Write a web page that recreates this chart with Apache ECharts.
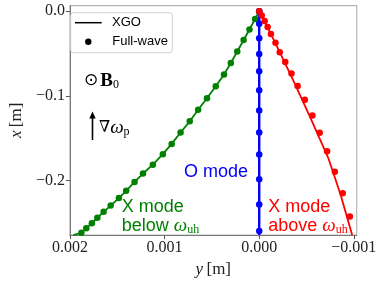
<!DOCTYPE html>
<html><head><meta charset="utf-8">
<script src="https://cdn.jsdelivr.net/npm/echarts@6/dist/echarts.min.js"></script>
<style>html,body{margin:0;padding:0;background:#fff}#c{width:382px;height:283px}</style>
</head><body><div id="c"></div>
<script>
// horizontal axis: y [m], vertical axis: x [m]
var xTicks = [0.002, 0.001, 0, -0.001];
var yTicks = [0, -0.1, -0.2];

// X mode below w_uh (green)
var greenFwY = [0, 0.0000434, 0.000103, 0.000165, 0.000232, 0.000300, 0.000372, 0.000459, 0.000552, 0.000645, 0.000734, 0.000831, 0.000925, 0.001018, 0.001124, 0.001228, 0.001317, 0.001406, 0.001483, 0.001569, 0.001644, 0.001710, 0.001768, 0.001827, 0.001879];
var greenFwX = [0, -0.0091, -0.0216, -0.0341, -0.0477, -0.0612, -0.0748, -0.0887, -0.1029, -0.1166, -0.1302, -0.1434, -0.1569, -0.1690, -0.1814, -0.1919, -0.2019, -0.2123, -0.2209, -0.2298, -0.2372, -0.2442, -0.2507, -0.2565, -0.2620];
var greenXgoY = [0, 0.0000434, 0.000103, 0.000165, 0.000232, 0.000300, 0.000372, 0.000459, 0.000552, 0.000645, 0.000734, 0.000831, 0.000925, 0.001018, 0.001124, 0.001228, 0.001317, 0.001406, 0.001483, 0.001569, 0.001644, 0.001710, 0.001768, 0.001827, 0.001879, 0.001965];
var greenXgoX = [0, -0.0091, -0.0216, -0.0341, -0.0477, -0.0612, -0.0748, -0.0887, -0.1029, -0.1166, -0.1302, -0.1434, -0.1569, -0.1690, -0.1814, -0.1919, -0.2019, -0.2123, -0.2209, -0.2298, -0.2372, -0.2442, -0.2507, -0.2565, -0.2620, -0.2647];

// O mode (blue)
var blueFwY = [0, 0, 0, 0, 0, 0, 0, 0, 0, 0, 0, 0];
var blueFwX = [0, -0.0147, -0.0321, -0.0507, -0.0709, -0.0934, -0.1174, -0.1434, -0.1695, -0.1988, -0.2286, -0.2600];
var blueXgoY = [0, 0];
var blueXgoX = [0, -0.2647];

// X mode above w_uh (red)
var redFwY = [0, -0.0000269, -0.0000579, -0.0000889, -0.000124, -0.000172, -0.000217, -0.000275, -0.000341, -0.000406, -0.000482, -0.000562, -0.000639, -0.000717, -0.000799, -0.000882, -0.000958];
var redFwX = [0, -0.0050, -0.0116, -0.0186, -0.0271, -0.0372, -0.0484, -0.0600, -0.0736, -0.0884, -0.1048, -0.1233, -0.1436, -0.1655, -0.1899, -0.2151, -0.2426];
var redXgoY = [0, -0.000155, -0.000355, -0.000545, -0.000730, -0.000860, -0.000982];
var redXgoX = [0, -0.0341, -0.0806, -0.1270, -0.1736, -0.2170, -0.2647];

function zip(a, b) { return a.map(function (v, i) { return [v, b[i]]; }); }
function fmt(v, d) {
  if (Math.abs(v) < 1e-12) return (0).toFixed(d);
  return (v < 0 ? '\u2212' : '') + Math.abs(v).toFixed(d);
}

var GREEN = '#008000', BLUE = '#0000ff', RED = '#ff0000';
var SERIF = '"Liberation Serif", "DejaVu Serif", serif';
var SANS = '"Liberation Sans", Arial, sans-serif';

var chart = echarts.init(document.getElementById('c'), null, {renderer: 'canvas'});

function lineS(name, data, color, w, z) {
  return {type: 'line', name: name, data: data, showSymbol: false, symbol: 'none',
    lineStyle: {color: color, width: w}, itemStyle: {color: color}, z: z, animation: false, silent: true, clip: true};
}
function dotS(name, data, color, z) {
  return {type: 'scatter', name: name, data: data, symbol: 'circle', symbolSize: 6.5,
    itemStyle: {color: color, opacity: 1}, z: z, animation: false, silent: true};
}

var subRich = function (color) {
  return {
    t: {fontFamily: SANS, fontSize: 18, fill: color, lineHeight: 20},
    w: {fontFamily: SERIF, fontStyle: 'italic', fontSize: 19, fill: color, lineHeight: 20},
    s: {fontFamily: SERIF, fontSize: 12, fill: color, lineHeight: 20, verticalAlign: 'bottom'}
  };
};

chart.setOption({
  animation: false,
  grid: {left: 63.3, right: 25.3, top: 5.7, bottom: 44.7, show: true, borderColor: '#b5b5b5', borderWidth: 1.2, backgroundColor: '#fff'},
  xAxis: {
    type: 'value', inverse: true, min: -0.00103, max: 0.002,
    splitLine: {show: false},
    axisLine: {show: true, onZero: false, lineStyle: {color: '#7a7a7a', width: 1}},
    axisTick: {show: true, length: 4, customValues: xTicks, lineStyle: {color: '#555'}},
    axisLabel: {customValues: xTicks, margin: 5, fontFamily: SERIF, fontSize: 16, color: '#222', formatter: function (v) { return fmt(v, 3); }},
    name: '{i|y} {r|[m]}', nameLocation: 'middle', nameGap: 24,
    nameTextStyle: {rich: {i: {fontFamily: SERIF, fontStyle: 'italic', fontSize: 17, color: '#222'}, r: {fontFamily: SERIF, fontSize: 17, color: '#222'}}}
  },
  yAxis: {
    type: 'value', min: -0.2647, max: 0.0065,
    splitLine: {show: false},
    axisLine: {show: true, onZero: false, lineStyle: {color: '#7a7a7a', width: 1}},
    axisTick: {show: true, length: 4, customValues: yTicks, lineStyle: {color: '#555'}},
    axisLabel: {customValues: yTicks, margin: 5, fontFamily: SERIF, fontSize: 16, color: '#222', formatter: function (v) { return fmt(v, 1); }},
    name: '{i|x} {r|[m]}', nameLocation: 'middle', nameGap: 42,
    nameTextStyle: {rich: {i: {fontFamily: SERIF, fontStyle: 'italic', fontSize: 17, color: '#222'}, r: {fontFamily: SERIF, fontSize: 17, color: '#222'}}}
  },
  series: [
    lineS('XGO', zip(greenXgoY, greenXgoX), GREEN, 1.8, 2),
    dotS('Full-wave', zip(greenFwY, greenFwX), GREEN, 3),
    lineS('XGO', zip(blueXgoY, blueXgoX), BLUE, 2.4, 4),
    dotS('Full-wave', zip(blueFwY, blueFwX), BLUE, 5),
    lineS('XGO', zip(redXgoY, redXgoX), RED, 1.8, 6),
    dotS('Full-wave', zip(redFwY, redFwX), RED, 7)
  ],
  graphic: [
    // legend
    {type: 'rect', shape: {x: 70.7, y: 12.7, width: 101.6, height: 40, r: 3}, style: {fill: 'rgba(255,255,255,0.8)', stroke: '#d0d0d0', lineWidth: 1}, z: 20},
    {type: 'line', shape: {x1: 75, y1: 22.7, x2: 101.7, y2: 22.7}, style: {stroke: '#000', lineWidth: 1.5}, z: 21},
    {type: 'circle', shape: {cx: 88.3, cy: 41.7, r: 3.2}, style: {fill: '#000'}, z: 21},
    {type: 'text', x: 112, y: 22.7, style: {text: 'XGO', font: '13px ' + SANS, fill: '#000', verticalAlign: 'middle'}, z: 21},
    {type: 'text', x: 112.3, y: 41.7, style: {text: 'Full-wave', font: '13px ' + SANS, fill: '#000', verticalAlign: 'middle'}, z: 21},
    // B0 symbol
    {type: 'text', x: 84, y: 81, style: {text: '{a|\u2299}{b|B}{s|0}', verticalAlign: 'middle',
      rich: {a: {fontFamily: '"DejaVu Sans", sans-serif', fontSize: 17, fill: '#000', lineHeight: 20, padding: [0, 2, 0, 0]},
             b: {fontFamily: SERIF, fontWeight: 'bold', fontSize: 19, fill: '#000', lineHeight: 20},
             s: {fontFamily: SERIF, fontSize: 12, fill: '#000', lineHeight: 20, verticalAlign: 'bottom'}}}, z: 20},
    // gradient arrow
    {type: 'line', shape: {x1: 92.5, y1: 140, x2: 92.5, y2: 117}, style: {stroke: '#000', lineWidth: 1.6}, z: 20},
    {type: 'polygon', shape: {points: [[89.3, 118.5], [95.7, 118.5], [92.5, 111.5]]}, style: {fill: '#000'}, z: 20},
    {type: 'text', x: 99, y: 128, style: {text: '{a|\u2207}{w|\u03c9}{s|p}', verticalAlign: 'middle',
      rich: {a: {fontFamily: '"DejaVu Serif", serif', fontSize: 16, fill: '#000', lineHeight: 20},
             w: {fontFamily: SERIF, fontStyle: 'italic', fontSize: 19, fill: '#000', lineHeight: 20},
             s: {fontFamily: SERIF, fontSize: 12, fill: '#000', lineHeight: 20, verticalAlign: 'bottom'}}}, z: 20},
    // mode labels
    {type: 'text', x: 248, y: 172.3, style: {text: 'O mode', font: '18px ' + SANS, fill: BLUE, align: 'right', verticalAlign: 'middle'}, z: 20},
    {type: 'text', x: 121.7, y: 206.7, style: {text: 'X mode', font: '18px ' + SANS, fill: GREEN, verticalAlign: 'middle'}, z: 20},
    {type: 'text', x: 121.7, y: 226, style: {text: '{t|below }{w|\u03c9}{s|uh}', verticalAlign: 'middle', rich: subRich(GREEN)}, z: 20},
    {type: 'text', x: 268.3, y: 206.7, style: {text: 'X mode', font: '18px ' + SANS, fill: RED, verticalAlign: 'middle'}, z: 20},
    {type: 'text', x: 268.3, y: 226, style: {text: '{t|above }{w|\u03c9}{s|uh}', verticalAlign: 'middle', rich: subRich(RED)}, z: 20}
  ]
});
</script></body></html>
